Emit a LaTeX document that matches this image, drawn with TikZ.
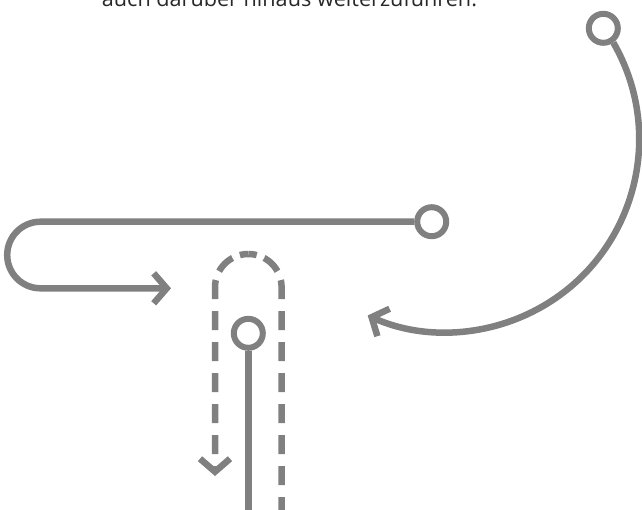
\documentclass[tikz,border=0pt]{standalone}
\usepackage{fontspec}
\usepackage{graphicx}
\setmainfont{Open Sans}
\usetikzlibrary{arrows.meta}
\definecolor{linegray}{RGB}{128,128,128}
\definecolor{textgray}{RGB}{40,40,40}
\tikzset{
  pathline/.style={draw=linegray, line width=6.5pt},
  ringnode/.style={circle, draw=linegray, line width=6pt, minimum size=29pt, inner sep=0pt},
  barb/.style={-{Straight Barb[length=13pt,width=30pt]}},
  dashbase/.style={draw=linegray, line width=6.5pt, dash phase=8.5pt},
  dashleft/.style={dashbase,
    dash pattern=on 17pt off 8pt on 19pt off 9.5pt on 19pt off 12pt on 19pt off 12pt on 19pt off 12pt on 19pt off 12pt on 19pt off 12pt on 19pt off 12pt on 19pt off 60pt},
  dashright/.style={dashbase,
    dash pattern=on 17pt off 8pt on 19pt off 9.5pt on 19pt off 12pt on 19pt off 12pt on 19pt off 12pt on 19pt off 12pt on 19pt off 12pt on 19pt off 12pt on 19pt off 12pt on 19pt off 12pt on 19pt off 12pt on 19pt off 60pt},
  caption/.style={inner sep=0pt, anchor=base west, text=textgray}
}
\begin{document}
\begin{tikzpicture}[x=1pt,y=-1pt]
\useasboundingbox (0,0) rectangle (642,509);
\clip (0,0) rectangle (642,509);
% text (cut at the top, as in the original)
\node[caption] (txt) at (101.7,6) {\resizebox{375pt}{!}{auch darüber hinaus weiterzuführen.}};
% top right ring with big arc
\node[ringnode] (c1) at (603.3,28.3) {};
\draw[pathline,barb] (c1.-55) arc[start angle=-30, end angle=114, radius=193];
% middle ring with U-turn
\node[ringnode] (c2) at (431.7,221.7) {};
\coordinate (uturn) at (40.5,221.7);
\coordinate (utip) at (171,288.3);
\draw[pathline,barb] (c2.west) -- (uturn) arc[start angle=-90, end angle=-270, radius=33.3] -- (utip);
% dashed capsule
\coordinate (captop) at (248.3,254);
\coordinate (capend) at (281.6,520);
\coordinate (captip) at (215,476);
\draw[dashright] (captop) arc[start angle=-90, end angle=0, radius=33.3] -- (capend);
\draw[dashleft,barb] (captop) arc[start angle=-90, end angle=-180, radius=33.3] -- (captip);
% ring with vertical line
\node[ringnode] (c3) at (248.3,333.3) {};
\coordinate (c3end) at (248.3,520);
\draw[pathline] (c3.south) -- (c3end);
\end{tikzpicture}
\end{document}
